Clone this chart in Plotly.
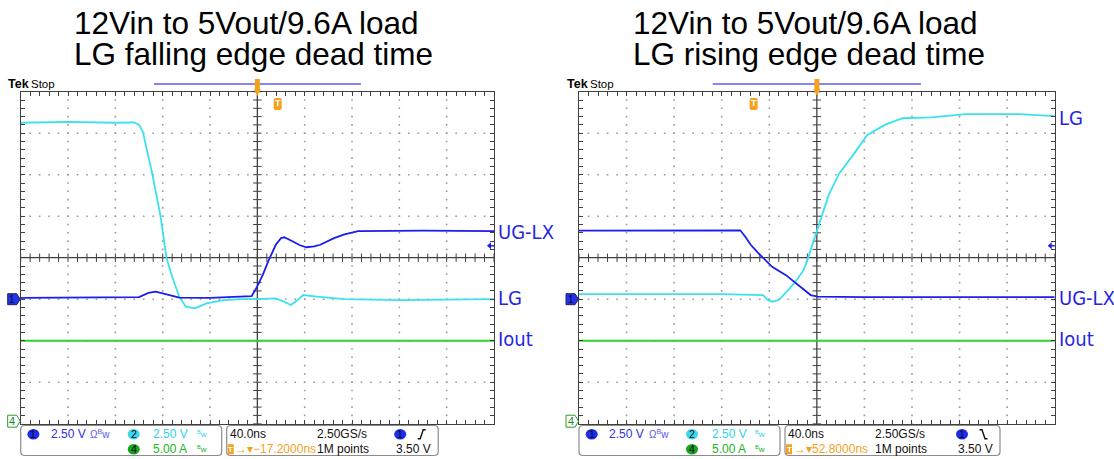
import numpy as np
import plotly.graph_objects as go

W, H = 1114, 459

# ---------------- scope settings (from on-screen readout) ----------------
NS_PER_DIV = 40.0
CH1_V_PER_DIV = 2.5   # UG-LX
CH2_V_PER_DIV = 2.5   # LG
CH4_A_PER_DIV = 5.0   # Iout
CH1_GND_DIV = -1.0
CH2_GND_DIV = -1.0
CH4_GND_DIV = -4.0

title_line1 = ["12Vin to 5Vout/9.6A load", "12Vin to 5Vout/9.6A load"]
title_line2 = ["LG falling edge dead time", "LG rising edge dead time"]

ch1_scale_txt = "2.50 V"
ch2_scale_txt = "2.50 V"
ch4_scale_txt = "5.00 A"
timebase_txt = "40.0ns"
samplerate_txt = "2.50GS/s"
points_txt = "1M points"
trig_level_txt = "3.50 V"
trig_delay_txt = ["\u2192\u25be\u221217.2000ns", "\u2192\u25be52.8000ns"]
trig_edge = ["rise", "fall"]

# ---------------- waveforms (time in ns, value in V / A) ----------------
# Left: LG falling edge
left_lg_t = [-200, -160, -120, -104, -100, -96.8, -89.2, -82, -76.8, -72, -66, -60.4, -52.8,
             -42.8, -28.4, -13.6, 0, 15.6, 22, 28.4, 34, 38.8, 50.4, 73.6, 120, 200]
left_lg_v = [10.63, 10.68, 10.63, 10.65, 10.5, 10.1, 7.68, 5.08, 2.5, 1.35, 0.15, -0.45, -0.55,
             -0.25, -0.05, 0.0, 0.0, 0.05, -0.13, -0.35, -0.05, 0.25, 0.15, 0.0, -0.05, 0.0]
left_uglx_t = [-200, -100, -92, -86, -80, -66, -40, -12, -4.8, -0.4, 4.8, 9.6, 15.6, 20, 22.8,
               30, 36, 41.6, 48, 53.2, 64.8, 73.6, 85.2, 140, 200]
left_uglx_v = [0.08, 0.13, 0.38, 0.45, 0.35, 0.1, 0.08, 0.13, 0.18, 0.73, 1.5, 2.35, 3.28, 3.68, 3.73,
               3.48, 3.25, 3.13, 3.18, 3.28, 3.68, 3.9, 4.1, 4.13, 4.1]
left_iout_t = [-200, 200]
left_iout_a = [10.0, 10.0]

# Right: LG rising edge
right_uglx_t = [-200, -120, -64.4, -60, -55.6, -49.6, -43.6, -37.6, -26, -14, -5.2, 0.8, 40, 200]
right_uglx_v = [4.13, 4.15, 4.15, 3.75, 3.28, 2.8, 2.35, 1.95, 1.45, 0.75, 0.25, 0.15, 0.13, 0.13]
right_lg_t = [-200, -80, -45.2, -41.2, -37.6, -32, -22.8, -16, -11.2, -8, 0.8, 10, 18.8, 30.4,
              42.4, 57.2, 72, 96, 125.6, 170.4, 200]
right_lg_v = [0.3, 0.3, 0.25, -0.05, -0.15, -0.05, 0.65, 1.25, 1.75, 2.35, 4.28, 6.28, 7.58, 8.68,
              9.9, 10.5, 10.9, 10.95, 11.15, 11.15, 11.03]
right_iout_t = [-200, 200]
right_iout_a = [10.0, 10.0]

# ---------------- styling ----------------
C_CYAN = "#3ae2ee"
C_BLUE = "#1c1cee"
C_GREEN = "#2ed42e"
C_LABEL = "#2626e2"
C_ORANGE = "#f4a11c"
C_GRID = "#9a9a9a"
C_AXIS = "#404040"
SANS = "Liberation Sans, Arial, sans-serif"
NARROW = "Liberation Sans Narrow, Arial Narrow, DejaVu Sans Condensed, Liberation Sans, sans-serif"

GRID_TOP, GRID_BOT = 91.7, 423.7
panels = [
    dict(x0=20.7, x1=494.0, xa="x", ya="y", title_x=73.0, box2_end=417.5, blue_bar=(154, 361),
         lg=(left_lg_t, left_lg_v), ug=(left_uglx_t, left_uglx_v), io=(left_iout_t, left_iout_a),
         labels=[("UG-LX", 0.61), ("LG", -0.96), ("Iout", -1.96)], tmark_rel=257.0),
    dict(x0=579.0, x1=1054.7, xa="x2", ya="y2", title_x=631.5, box2_end=421.0, blue_bar=(712.7, 921),
         lg=(right_lg_t, right_lg_v), ug=(right_uglx_t, right_uglx_v), io=(right_iout_t, right_iout_a),
         labels=[("LG", 3.37), ("UG-LX", -0.96), ("Iout", -1.96)], tmark_rel=174.6),
]


def X(px):
    return px / W


def Y(py):
    return 1 - py / H


def to_div(vals, per_div, gnd):
    return [v / per_div + gnd for v in vals]


fig = go.Figure()
shapes = []
annotations = []


def ann(px, py, text, size, color, xa="left", ya="middle", family=SANS, yref="paper"):
    annotations.append(dict(x=X(px), y=(Y(py) if yref == "paper" else py), xref="paper", yref=yref,
                            text=text, showarrow=False, xanchor=xa, yanchor=ya,
                            font=dict(size=size, color=color, family=family), borderpad=0))


def pth(points, close=True):
    s = "M " + " L ".join(f"{X(a):.5f},{Y(b):.5f}" for a, b in points)
    return s + (" Z" if close else "")


def rrect(x0, y0, x1, y1, r):
    pts = [
        f"M {X(x0 + r):.5f},{Y(y0):.5f}", f"L {X(x1 - r):.5f},{Y(y0):.5f}",
        f"Q {X(x1):.5f},{Y(y0):.5f} {X(x1):.5f},{Y(y0 + r):.5f}", f"L {X(x1):.5f},{Y(y1 - r):.5f}",
        f"Q {X(x1):.5f},{Y(y1):.5f} {X(x1 - r):.5f},{Y(y1):.5f}", f"L {X(x0 + r):.5f},{Y(y1):.5f}",
        f"Q {X(x0):.5f},{Y(y1):.5f} {X(x0):.5f},{Y(y1 - r):.5f}", f"L {X(x0):.5f},{Y(y0 + r):.5f}",
        f"Q {X(x0):.5f},{Y(y0):.5f} {X(x0 + r):.5f},{Y(y0):.5f}", "Z"]
    return " ".join(pts)


xr = [-5 * NS_PER_DIV, 5 * NS_PER_DIV]
yr = [-4, 4]
grid_x = np.arange(-5, 5.001, 0.2) * NS_PER_DIV
grid_y = np.arange(-4, 4.001, 0.2)

for i, p in enumerate(panels):
    xa, ya = p["xa"], p["ya"]
    # dotted graticule
    dx, dy = [], []
    for k in range(-4, 5):
        if k == 0:
            continue
        dx += [k * NS_PER_DIV] * len(grid_y)
        dy += list(grid_y)
    for k in range(-3, 4):
        if k == 0:
            continue
        dx += list(grid_x)
        dy += [k] * len(grid_x)
    fig.add_trace(go.Scatter(x=dx, y=dy, mode="markers", xaxis=xa, yaxis=ya, hoverinfo="skip",
                             marker=dict(symbol="square", size=1.6, color=C_GRID, line=dict(width=0)),
                             showlegend=False))
    # centre cross
    shapes.append(dict(type="line", xref=xa, yref=ya, x0=xr[0], x1=xr[1], y0=0, y1=0,
                       line=dict(color=C_AXIS, width=1.3), layer="below"))
    shapes.append(dict(type="line", xref=xa, yref=ya, x0=0, x1=0, y0=yr[0], y1=yr[1],
                       line=dict(color=C_AXIS, width=1.3), layer="below"))
    fig.add_trace(go.Scatter(x=grid_x, y=[0] * len(grid_x), mode="markers", xaxis=xa, yaxis=ya,
                             hoverinfo="skip", showlegend=False,
                             marker=dict(symbol="line-ns", size=6, line=dict(color=C_AXIS, width=1))))
    fig.add_trace(go.Scatter(x=[0] * len(grid_y), y=grid_y, mode="markers", xaxis=xa, yaxis=ya,
                             hoverinfo="skip", showlegend=False,
                             marker=dict(symbol="line-ew", size=6, line=dict(color=C_AXIS, width=1))))
    # traces
    t, a = p["io"]
    fig.add_trace(go.Scatter(x=t, y=to_div(a, CH4_A_PER_DIV, CH4_GND_DIV), mode="lines", xaxis=xa, yaxis=ya,
                             line=dict(color=C_GREEN, width=2.0), showlegend=False, name="Iout"))
    t, v = p["lg"]
    fig.add_trace(go.Scatter(x=t, y=to_div(v, CH2_V_PER_DIV, CH2_GND_DIV), mode="lines", xaxis=xa, yaxis=ya,
                             line=dict(color=C_CYAN, width=1.8), showlegend=False, name="LG"))
    t, v = p["ug"]
    fig.add_trace(go.Scatter(x=t, y=to_div(v, CH1_V_PER_DIV, CH1_GND_DIV), mode="lines", xaxis=xa, yaxis=ya,
                             line=dict(color=C_BLUE, width=1.8), showlegend=False, name="UG-LX"))

    x0, x1 = p["x0"], p["x1"]
    xc = (x0 + x1) / 2
    yref_name = "y" if ya == "y" else "y2"

    # titles
    ann(p["title_x"], 23.2, title_line1[i], 31.5, "#000000")
    ann(p["title_x"], 54.2, title_line2[i], 31.5, "#000000")

    # Tek Stop
    ann(x0 - 13.5, 84.5, "<b>Tek</b>", 12.5, "#000000")
    ann(x0 + 9.5, 84.5, "Stop", 11.5, "#000000")

    # horizontal position bar
    shapes.append(dict(type="line", xref="paper", yref="paper", x0=X(p["blue_bar"][0]), x1=X(p["blue_bar"][1]),
                       y0=Y(84), y1=Y(84), line=dict(color="#5c5cf2", width=1.5)))
    # trigger position marker at top
    shapes.append(dict(type="rect", xref="paper", yref="paper", x0=X(xc - 2.5), x1=X(xc + 2.5),
                       y0=Y(79), y1=Y(90), fillcolor=C_ORANGE, line=dict(width=0)))
    shapes.append(dict(type="path", xref="paper", yref="paper",
                       path=pth([(xc - 3.5, 89), (xc + 3.5, 89), (xc, 96)]), fillcolor=C_ORANGE,
                       line=dict(width=0)))
    # "T" badge
    tx = x0 + p["tmark_rel"]
    shapes.append(dict(type="path", xref="paper", yref="paper", path=rrect(tx - 4, 98, tx + 4, 110, 2),
                       fillcolor=C_ORANGE, line=dict(width=0)))
    ann(tx, 103.5, "<b>T</b>", 9, "#ffffff", xa="center")

    # channel labels to the right of the graticule
    for txt, yv in p["labels"]:
        ann(x1 + 3, yv, txt, 20, C_LABEL, family=NARROW, yref=yref_name)
    # reference level arrow at right edge
    ay = 245.8
    shapes.append(dict(type="path", xref="paper", yref="paper",
                       path=pth([(x1 - 7, ay), (x1 - 3, ay - 3.5), (x1 - 3, ay + 3.5)]),
                       fillcolor=C_BLUE, line=dict(width=0)))
    shapes.append(dict(type="line", xref="paper", yref="paper", x0=X(x1 - 3.5), x1=X(x1),
                       y0=Y(ay), y1=Y(ay), line=dict(color=C_BLUE, width=1.5)))

    # ground markers at left edge
    g1 = 257.7 - CH1_GND_DIV * 41.5
    shapes.append(dict(type="path", xref="paper", yref="paper",
                       path=pth([(x0 - 13, g1 - 5.5), (x0 - 4, g1 - 5.5), (x0 - 0.5, g1), (x0 - 4, g1 + 5.5),
                                 (x0 - 13, g1 + 5.5)]),
                       fillcolor="#2433e6", line=dict(color="#202060", width=1)))
    ann(x0 - 8.5, g1, "1", 10, "#0a0a30", xa="center")
    g4 = 257.7 - CH4_GND_DIV * 41.5 - 2.5
    shapes.append(dict(type="path", xref="paper", yref="paper",
                       path=pth([(x0 - 13, g4 - 6), (x0 - 4, g4 - 6), (x0 - 0.5, g4), (x0 - 4, g4 + 6),
                                 (x0 - 13, g4 + 6)]),
                       fillcolor="#ffffff", line=dict(color="#2a9a2a", width=1)))
    ann(x0 - 8.5, g4, "4", 11, "#1d8a1d", xa="center")

    # info boxes
    b2e = x0 + p["box2_end"]
    shapes.append(dict(type="path", xref="paper", yref="paper", path=rrect(x0, 425.5, x0 + 201, 455.5, 4),
                       fillcolor="#ffffff", line=dict(color="#8c8c8c", width=1.2)))
    shapes.append(dict(type="path", xref="paper", yref="paper", path=rrect(x0 + 206, 425.5, b2e, 455.5, 4),
                       fillcolor="#ffffff", line=dict(color="#8c8c8c", width=1.2)))
    r1, r2 = 434.3, 449.2

    def badge(cx, cy, col, num):
        shapes.append(dict(type="circle", xref="paper", yref="paper", x0=X(cx - 6), x1=X(cx + 6),
                           y0=Y(cy - 5.2), y1=Y(cy + 5.2), fillcolor=col, line=dict(width=0)))
        ann(cx, cy, num, 10.5, "#08082a", xa="center")

    badge(x0 + 12.7, r1, "#1c2ce8", "1")
    ann(x0 + 29, r1, ch1_scale_txt, 12, "#2f2fdc")
    ann(x0 + 68.5, r1, "\u03a9<sup>B</sup>w", 10, "#5a5ae8")
    badge(x0 + 113, r1, "#3ed8ec", "2")
    ann(x0 + 131.5, r1, ch2_scale_txt, 12, "#33d2e6")
    ann(x0 + 175, r1, "<sup>B</sup>w", 8, "#33d2e6")
    badge(x0 + 113, r2, "#1aa41a", "4")
    ann(x0 + 131.5, r2, ch4_scale_txt, 12, "#22b422")
    ann(x0 + 175, r2, "<sup>B</sup>w", 8, "#22b422")

    ann(x0 + 208, r1, timebase_txt, 12, "#111111")
    ann(x0 + 295, r1, samplerate_txt, 12, "#111111")
    badge(b2e - 38, r1, "#1c2ce8", "1")
    ex, ey = b2e - 16.5, r1
    if trig_edge[i] == "rise":
        epts = [(ex - 4, ey + 4.5), (ex - 1.5, ey + 4.5), (ex + 1.5, ey - 4.5), (ex + 4, ey - 4.5)]
    else:
        epts = [(ex - 4, ey - 4.5), (ex - 1.5, ey - 4.5), (ex + 1.5, ey + 4.5), (ex + 4, ey + 4.5)]
    shapes.append(dict(type="path", xref="paper", yref="paper", path=pth(epts, close=False),
                       line=dict(color="#111111", width=1.4)))
    shapes.append(dict(type="rect", xref="paper", yref="paper", x0=X(x0 + 207), x1=X(x0 + 213),
                       y0=Y(r2 - 5), y1=Y(r2 + 5), fillcolor=C_ORANGE, line=dict(width=0)))
    ann(x0 + 210, r2, "<b>T</b>", 8, "#ffffff", xa="center")
    ann(x0 + 213.5, r2, trig_delay_txt[i], 12, C_ORANGE)
    ann(x0 + 295, r2, points_txt, 12, "#111111")
    ann(b2e - 6, r2, trig_level_txt, 12, "#111111", xa="right")

axis_x = dict(range=xr, showgrid=False, zeroline=False, showticklabels=False, showline=True,
              linecolor=C_AXIS, linewidth=1.3, mirror="ticks", ticks="inside", ticklen=4,
              tickcolor=C_AXIS, tickwidth=1, dtick=NS_PER_DIV, tick0=0, fixedrange=True,
              minor=dict(ticks="inside", ticklen=4, tickcolor=C_AXIS, tickwidth=1, dtick=NS_PER_DIV / 5))
axis_y = dict(range=yr, showgrid=False, zeroline=False, showticklabels=False, showline=True,
              linecolor=C_AXIS, linewidth=1.3, mirror="ticks", ticks="inside", ticklen=4,
              tickcolor=C_AXIS, tickwidth=1, dtick=1, tick0=0, fixedrange=True,
              minor=dict(ticks="inside", ticklen=4, tickcolor=C_AXIS, tickwidth=1, dtick=0.2))

ydom = [Y(GRID_BOT), Y(GRID_TOP)]
fig.update_layout(
    width=W, height=H, margin=dict(l=0, r=0, t=0, b=0),
    paper_bgcolor="#ffffff", plot_bgcolor="#ffffff",
    xaxis=dict(axis_x, domain=[X(panels[0]["x0"]), X(panels[0]["x1"])], anchor="y"),
    yaxis=dict(axis_y, domain=ydom, anchor="x"),
    xaxis2=dict(axis_x, domain=[X(panels[1]["x0"]), X(panels[1]["x1"])], anchor="y2"),
    yaxis2=dict(axis_y, domain=ydom, anchor="x2"),
    shapes=shapes, annotations=annotations, showlegend=False,
)

fig.write_html("out.html", config={"displayModeBar": False},
               post_script="document.body.style.margin='0';")
